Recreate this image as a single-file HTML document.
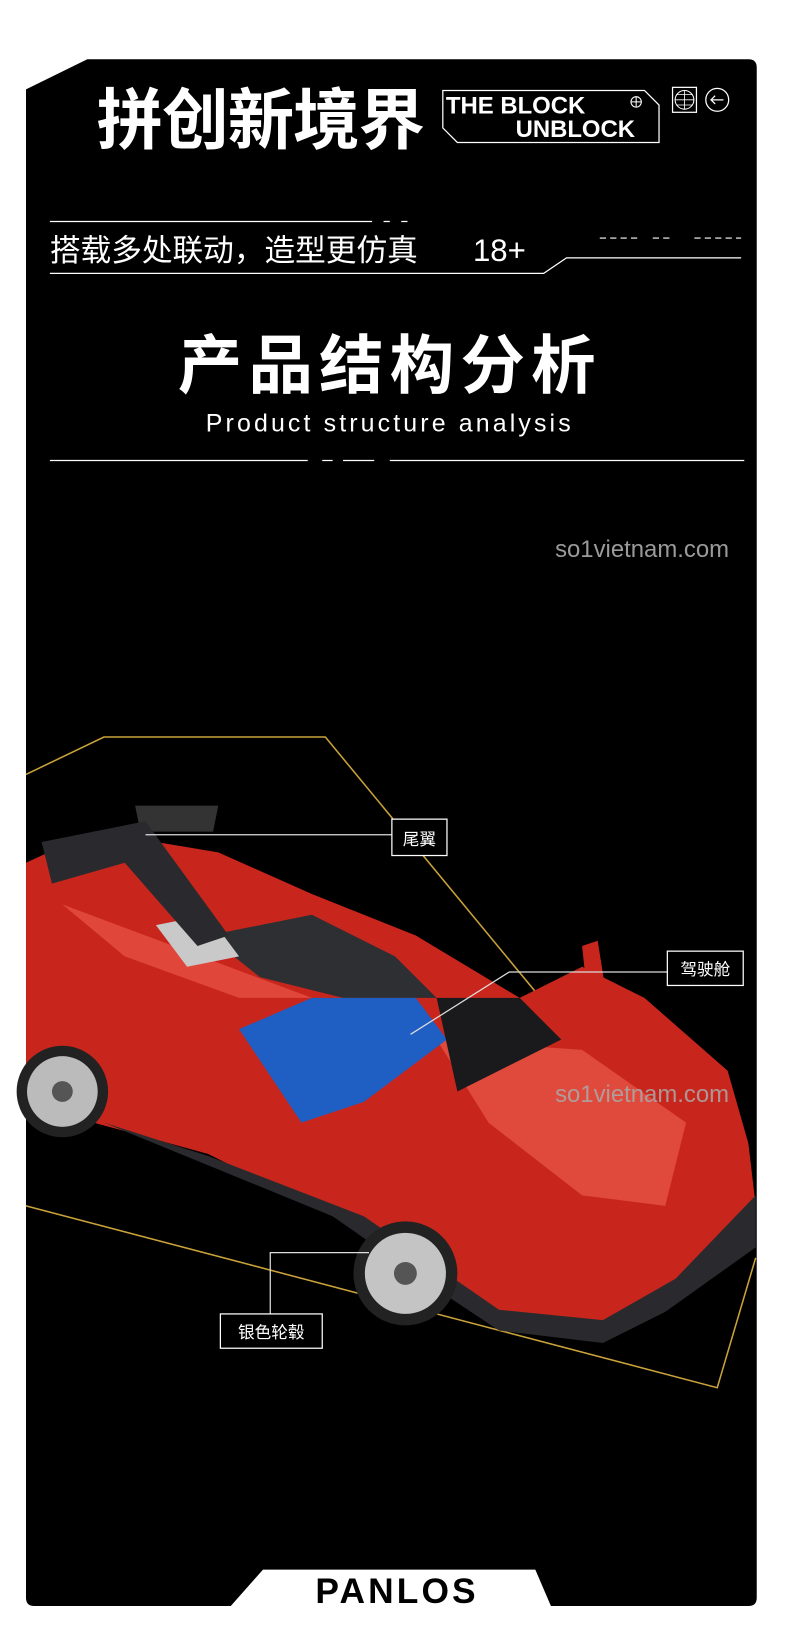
<!DOCTYPE html>
<html><head><meta charset="utf-8"><style>
html,body{margin:0;padding:0;background:#fff;width:790px;height:1631px;overflow:hidden}
svg{display:block}
text{font-family:"Liberation Sans","Noto Sans CJK SC",sans-serif}
</style></head><body>
<svg width="790" height="1631" viewBox="0 0 760 1569" xmlns="http://www.w3.org/2000/svg">
<rect width="760" height="1569" fill="#fff"/>
<path d="M25 86 L84 57 L720 57 Q728 57 728 65 L728 1537 Q728 1545 720 1545 L33 1545 Q25 1545 25 1537 Z" fill="#000"/>
<!-- header -->
<text x="93" y="138" font-size="64" font-weight="bold" fill="#fff" font-family="Noto Sans CJK SC, sans-serif" letter-spacing="-1">拼创新境界</text>
<path d="M426 87 L620 87 L634 101 L634 137 L440 137 L426 123 Z" fill="none" stroke="#fff" stroke-width="1.2"/>
<text x="429" y="109" font-size="23" font-weight="bold" fill="#fff">THE BLOCK</text>
<text x="496" y="132" font-size="23" font-weight="bold" fill="#fff">UNBLOCK</text>
<circle cx="612" cy="98" r="5" fill="none" stroke="#fff" stroke-width="1"/>
<path d="M607 98h10M612 93v10" stroke="#fff" stroke-width="1"/>
<rect x="647" y="84" width="23" height="24" fill="none" stroke="#fff" stroke-width="1.2"/>
<circle cx="658.5" cy="96" r="9" fill="none" stroke="#fff" stroke-width="1"/>
<path d="M649 96h19M658.5 87v18M651 91h15M651 101h15" stroke="#fff" stroke-width="0.8"/>
<circle cx="690" cy="96" r="11" fill="none" stroke="#fff" stroke-width="1.2"/>
<path d="M696 96h-12M688 92l-4 4 4 4" fill="none" stroke="#fff" stroke-width="1.2"/>
<!-- subtitle -->
<path d="M48 213H358M369 213h6M386 213h6" stroke="#fff" stroke-width="1.2"/>
<text x="48" y="251" font-size="29.5" fill="#fff" font-family="Noto Sans CJK SC, sans-serif">搭载多处联动，造型更仿真</text>
<text x="455" y="251" font-size="30" fill="#fff">18+</text>
<path d="M48 263H523L545 248H713" fill="none" stroke="#fff" stroke-width="1.2"/>
<path d="M577 229h36M628 229h20M668 229h45" stroke="#fff" stroke-width="1" stroke-dasharray="6 4"/>
<text x="375" y="373" font-size="62" font-weight="bold" fill="#fff" text-anchor="middle" font-family="Noto Sans CJK SC, sans-serif" letter-spacing="6">产品结构分析</text>
<text x="375" y="415" font-size="24" fill="#fff" text-anchor="middle" letter-spacing="3" font-family="DejaVu Sans, sans-serif">Product structure analysis</text>
<path d="M48 443H296M310 443h10M330 443h30M375 443H716" stroke="#fff" stroke-width="1.2"/>
<text x="534" y="536" font-size="23" fill="#9a9a9a">so1vietnam.com</text>
<!-- gold lines -->
<path d="M25 745L100 709H313L520 960" fill="none" stroke="#c9a23a" stroke-width="1.5"/>
<path d="M25 1160L690 1335L727 1210" fill="none" stroke="#c9a23a" stroke-width="1.5"/>
<!-- car -->
<path d="M25 830L90 800L210 820L300 860L400 900L500 960L560 930L620 960L700 1030L720 1100L727 1160L690 1210L640 1250L580 1285L480 1275L420 1230L320 1170L200 1110L90 1080L25 1050Z" fill="#c8261c"/>
<path d="M100 1080L320 1170L420 1240L480 1280L580 1292L640 1262L727 1200L727 1150L650 1230L580 1270L480 1260L350 1170L200 1112Z" fill="#2a2a2e"/>
<path d="M60 870L140 900L300 960L230 960L120 920Z" fill="#e0473a"/>
<path d="M420 1000L560 1010L660 1080L640 1160L560 1150L470 1080Z" fill="#df4a3c"/>
<path d="M200 900L300 880L380 920L420 960L330 960L250 940Z" fill="#2d2f33"/>
<path d="M150 890L200 880L230 920L180 930Z" fill="#c9c9c9"/>
<path d="M230 990L300 960L400 960L430 1000L350 1060L290 1080Z" fill="#1f5fc4"/>
<path d="M420 960L500 960L540 1000L440 1050Z" fill="#1a1a1c"/>
<path d="M130 775L210 775L205 800L135 800Z" fill="#333"/>
<path d="M40 810L140 790L220 900L190 910L120 830L50 850Z" fill="#2a2a2e"/>
<path d="M560 910L575 905L590 1000L570 1005Z" fill="#c8261c"/>
<circle cx="60" cy="1050" r="44" fill="#222"/><circle cx="60" cy="1050" r="34" fill="#bbb"/><circle cx="60" cy="1050" r="10" fill="#555"/>
<circle cx="390" cy="1225" r="50" fill="#222"/><circle cx="390" cy="1225" r="39" fill="#c4c4c4"/><circle cx="390" cy="1225" r="11" fill="#555"/>
<!-- labels -->
<path d="M140 803H377" stroke="#ddd" stroke-width="1.2"/>
<rect x="377" y="788" width="53" height="35" fill="#000" stroke="#fff" stroke-width="1.2"/>
<text x="403.5" y="813" font-size="16" fill="#fff" text-anchor="middle" font-family="Noto Sans CJK SC, sans-serif">尾翼</text>
<path d="M395 995L490 935H642" fill="none" stroke="#ddd" stroke-width="1.2"/>
<rect x="642" y="915" width="73" height="33" fill="#000" stroke="#fff" stroke-width="1.2"/>
<text x="678.5" y="938" font-size="16" fill="#fff" text-anchor="middle" font-family="Noto Sans CJK SC, sans-serif">驾驶舱</text>
<path d="M260 1264V1205H355" fill="none" stroke="#ddd" stroke-width="1.2"/>
<rect x="212" y="1264" width="98" height="33" fill="#000" stroke="#fff" stroke-width="1.2"/>
<text x="261" y="1287" font-size="16" fill="#fff" text-anchor="middle" font-family="Noto Sans CJK SC, sans-serif">银色轮毂</text>
<text x="534" y="1060" font-size="23" fill="#aaa" opacity="0.85">so1vietnam.com</text>
<!-- footer tab -->
<path d="M253 1510H515L530 1545H222Z" fill="#fff"/>
<text x="382" y="1542" font-size="34" font-weight="bold" fill="#000" text-anchor="middle" letter-spacing="3">PANLOS</text>
</svg>
</body></html>
